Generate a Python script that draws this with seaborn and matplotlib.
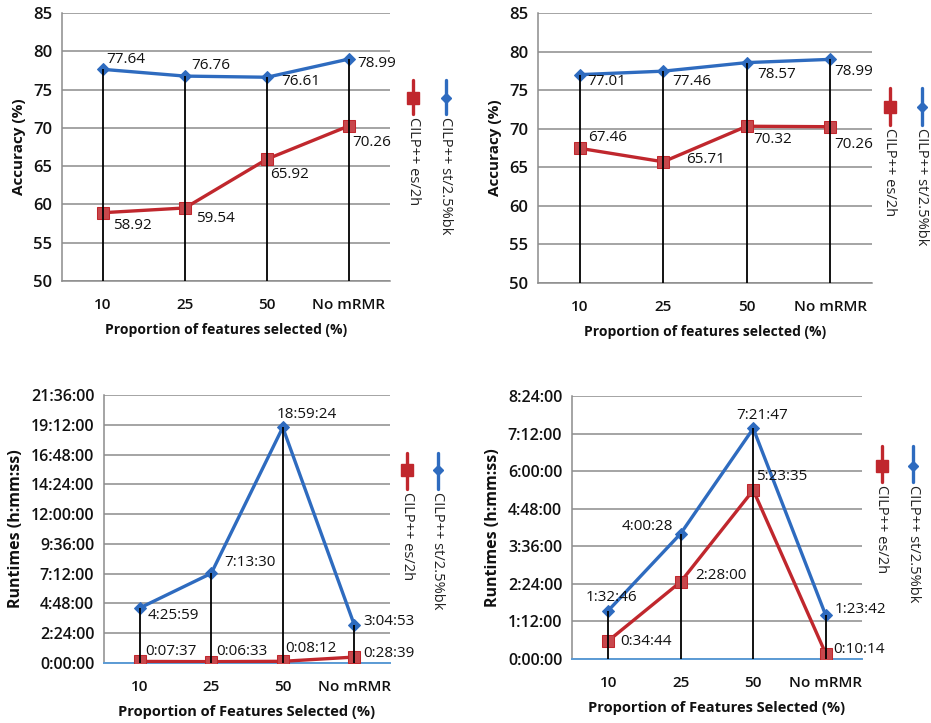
import numpy as np
import pandas as pd
import seaborn as sns
import matplotlib.pyplot as plt
from matplotlib.lines import Line2D
from matplotlib.ticker import FuncFormatter, MultipleLocator

# categories on the x axis
cats = ['10', '25', '50', 'No mRMR']
names = ['CILP++ st/2.5%bk', 'CILP++ es/2h']

# accuracy (%)
acc1_st = [77.64, 76.76, 76.61, 78.99]
acc1_es = [58.92, 59.54, 65.92, 70.26]
acc2_st = [77.01, 77.46, 78.57, 78.99]
acc2_es = [67.46, 65.71, 70.32, 70.26]

# runtimes as h:mm:ss
run1_st = ['4:25:59', '7:13:30', '18:59:24', '3:04:53']
run1_es = ['0:07:37', '0:06:33', '0:08:12', '0:28:39']
run2_st = ['1:32:46', '4:00:28', '7:21:47', '1:23:42']
run2_es = ['0:34:44', '2:28:00', '5:23:35', '0:10:14']

BLUE = '#2E6BBF'
RED = '#C0272D'
W, H = 931, 723


def to_sec(s):
    h, m, x = s.split(':')
    return int(h) * 3600 + int(m) * 60 + int(x)


def hms(v, pos=None):
    v = int(round(v))
    return '%d:%02d:%02d' % (v // 3600, (v % 3600) // 60, v % 60)


sns.set_theme(style='white')
plt.rcParams['font.family'] = ['Open Sans', 'DejaVu Sans']

fig = plt.figure(figsize=(W / 100, H / 100), dpi=100)


def px_axes(l, t, r, b):
    return fig.add_axes([l / W, 1 - b / H, (r - l) / W, (b - t) / H])


def legend_px(xr, xb, ytop, ymark, ybot, ytext):
    for x, col, mk, ms, lab in [(xr, RED, 's', 9, names[1]), (xb, BLUE, 'D', 5, names[0])]:
        fig.add_artist(Line2D([x / W, x / W], [1 - ytop / H, 1 - ybot / H],
                              transform=fig.transFigure, color=col, lw=2.4))
        fig.add_artist(Line2D([x / W], [1 - ymark / H], transform=fig.transFigure,
                              color=col, marker=mk, ms=ms, mfc=col, mec=col))
        fig.text(x / W, 1 - ytext / H, lab, rotation=270, ha='center', va='top',
                 fontsize=10.5, color='#222222')


panels = [
    dict(box=(62, 13, 390, 281), st=acc1_st, es=acc1_es, time=False,
         ylim=(50, 85), step=5, ylabel='Accuracy (%)',
         xlabel='Proportion of features selected (%)',
         off_st=[(3, -10, 'left'), (6, -11, 'left'), (14, 4, 'left'), (8, 4, 'left')],
         off_es=[(10, 13, 'left'), (11, 11, 'left'), (3, 15, 'left'), (3, 17, 'left')],
         leg=(413, 446, 80, 98, 114, 117)),
    dict(box=(538, 13, 872, 283), st=acc2_st, es=acc2_es, time=False,
         ylim=(50, 85), step=5, ylabel='Accuracy (%)',
         xlabel='Proportion of features selected (%)',
         off_st=[(8, 7, 'left'), (9, 10, 'left'), (11, 12, 'left'), (4, 12, 'left')],
         off_es=[(8, -11, 'left'), (23, -2, 'left'), (6, 13, 'left'), (4, 18, 'left')],
         leg=(890, 922, 88, 107, 125, 128)),
    dict(box=(104, 395, 390, 663), st=run1_st, es=run1_es, time=True,
         ylim=(0, 77760), step=8640, ylabel='Runtimes (h:mm:ss)',
         xlabel='Proportion of Features Selected (%)',
         off_st=[(8, 8, 'left'), (13, -11, 'left'), (-6, -13, 'left'), (9, -3, 'left')],
         off_es=[(6, -10, 'left'), (5, -10, 'left'), (3, -13, 'left'), (9, -4, 'left')],
         leg=(407, 438, 453, 470, 489, 492)),
    dict(box=(572, 396, 862, 659), st=run2_st, es=run2_es, time=True,
         ylim=(0, 30240), step=4320, ylabel='Runtimes (h:mm:ss)',
         xlabel='Proportion of Features Selected (%)',
         off_st=[(-23, -13, 'left'), (-8, -7, 'right'), (9, -13, 'center'), (9, -6, 'left')],
         off_es=[(12, 1, 'left'), (15, -6, 'left'), (3, -14, 'left'), (8, -4, 'left')],
         leg=(882, 913, 446, 466, 482, 485)),
]

xs = np.arange(len(cats))

for p in panels:
    ax = px_axes(*p['box'])
    if p['time']:
        st = [to_sec(s) for s in p['st']]
        es = [to_sec(s) for s in p['es']]
        lab_st, lab_es = p['st'], p['es']
    else:
        st, es = p['st'], p['es']
        lab_st = ['%.2f' % v for v in st]
        lab_es = ['%.2f' % v for v in es]

    df = pd.DataFrame({'x': np.concatenate([xs, xs]), 'y': st + es,
                       'series': [names[0]] * 4 + [names[1]] * 4})

    ax.set_ylim(*p['ylim'])
    ax.set_xlim(-0.5, 3.5)
    ax.yaxis.set_major_locator(MultipleLocator(p['step']))
    ax.grid(axis='y', color='#8c8c8c', lw=1.1)
    ax.set_axisbelow(True)

    # drop lines up to the higher series
    ax.vlines(xs, p['ylim'][0], np.maximum(st, es), color='black', lw=1.3, zorder=4)

    sns.lineplot(data=df[df.series == names[0]], x='x', y='y', ax=ax, color=BLUE,
                 lw=2.4, marker='D', ms=6, mec=BLUE, mfc=BLUE, zorder=3)
    sns.lineplot(data=df[df.series == names[1]], x='x', y='y', ax=ax, color=RED,
                 lw=2.4, marker='s', ms=9, mec=RED, mfc='#C8474C', zorder=3)

    for xi, v, t, (dx, dy, ha) in zip(xs, st, lab_st, p['off_st']):
        ax.annotate(t, (xi, v), xytext=(dx, -dy), textcoords='offset pixels',
                    ha=ha, va='center', fontsize=11, color='#111111', zorder=6)
    for xi, v, t, (dx, dy, ha) in zip(xs, es, lab_es, p['off_es']):
        ax.annotate(t, (xi, v), xytext=(dx, -dy), textcoords='offset pixels',
                    ha=ha, va='center', fontsize=11, color='#111111', zorder=6)

    ax.set_xticks(xs)
    ax.set_xticklabels(cats)
    if p['time']:
        ax.yaxis.set_major_formatter(FuncFormatter(hms))
    for sp in ['top', 'right']:
        ax.spines[sp].set_visible(False)
    ax.spines['left'].set_color('#8c8c8c')
    ax.spines['left'].set_linewidth(1.1)
    if p['time']:
        ax.spines['bottom'].set_color('#5B9BD5')
        ax.spines['bottom'].set_linewidth(1.4)
    else:
        ax.spines['bottom'].set_color('#8c8c8c')
        ax.spines['bottom'].set_linewidth(1.1)
    ax.tick_params(axis='y', length=4, color='#8c8c8c', width=1.1,
                   labelsize=12 if not p['time'] else 11.5, pad=3, labelcolor='#111111')
    ax.tick_params(axis='x', length=0, labelsize=11, pad=12, labelcolor='#111111')
    for lab in ax.get_yticklabels() + ax.get_xticklabels():
        lab.set_fontweight('semibold')
    ax.set_xlabel(p['xlabel'], fontsize=10 if not p['time'] else 10.5,
                  fontweight='bold', color='#111111', labelpad=8)
    ax.set_ylabel(p['ylabel'], fontsize=11 if not p['time'] else 11.5,
                  fontweight='bold', color='#111111', labelpad=5)

    legend_px(*p['leg'])

fig.savefig('out.png', dpi=100)
